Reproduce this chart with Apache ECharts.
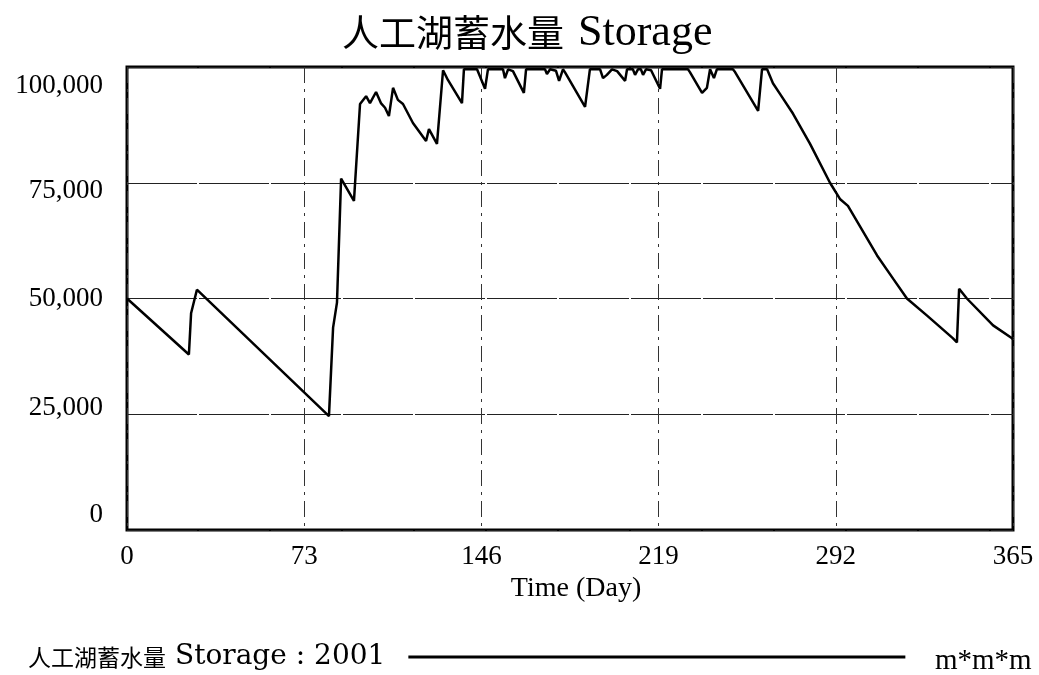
<!DOCTYPE html>
<html>
<head>
<meta charset="utf-8">
<title>人工湖蓄水量 Storage</title>
<script src="https://cdn.jsdelivr.net/npm/echarts@6/dist/echarts.min.js"></script>
<style>
  html, body { margin: 0; padding: 0; background: #fff; }
  #main { width: 1039px; height: 675px; }
</style>
</head>
<body>
<div id="main"></div>
<script>
  // time (day) of each break point of the curve
  var days = [0, 25.5, 26.4, 28.8, 83.2, 84.9, 86.5, 88.2, 93.5, 96.0, 98.5, 100.1, 102.6, 104.6, 106.3, 107.9,
    109.6, 111.6, 113.7, 117.8, 123.2, 124.4, 127.7, 130.2, 132.2, 138.0, 138.8, 144.2, 147.5, 148.7, 154.9,
    155.7, 157.0, 159.0, 163.5, 164.4, 172.2, 173.0, 174.3, 176.7, 178.0, 179.6, 180.4, 188.7, 190.7, 194.9,
    196.1, 197.7, 199.8, 201.9, 205.2, 206.0, 208.4, 209.3, 210.5, 211.7, 212.6, 213.8, 215.9, 219.6, 220.4,
    231.1, 231.9, 236.9, 238.9, 240.2, 241.0, 241.8, 243.0, 249.6, 250.5, 260.0, 261.6, 263.7, 266.1, 269.0,
    274.4, 281.4, 289.6, 293.7, 297.0, 309.0, 315.6, 321.3, 329.6, 340.3, 341.9, 342.8, 346.0, 356.8, 364.6, 365];
  // 人工湖蓄水量 Storage (m*m*m)
  var storage = [50000, 37900, 46800, 51900, 24600, 43700, 49100, 75900, 71100, 92000, 93700, 92200, 94600, 92200, 91200, 89400,
    95500, 92900, 92000, 87900, 84000, 86600, 83400, 99300, 97200, 92200, 99500, 99500, 95300, 99500, 99500,
    97600, 99500, 99100, 94400, 99500, 99500, 98500, 99500, 99200, 97000, 99500, 98900, 91400, 99500, 99500,
    97600, 98300, 99500, 99100, 97000, 99500, 99500, 98300, 99500, 99500, 98300, 99500, 99300, 95300, 99500,
    99500, 98900, 94400, 95500, 99500, 99500, 97600, 99500, 99500, 98900, 90500, 99500, 99500, 96500, 94200,
    89900, 83400, 75000, 71500, 70000, 59300, 54300, 50000, 46300, 41400, 40500, 52100, 50000, 44200, 41400, 41200];
  var xTicks = [0, 73, 146, 219, 292, 365];
  var yTicks = [0, 25000, 50000, 75000, 100000];
  var seriesName = '人工湖蓄水量 Storage : 2001';
  var unitText = 'm*m*m';

  var serif = '"Liberation Serif", "Times New Roman", serif';
  var wideSerif = '"DejaVu Serif", "Liberation Serif", serif';
  var cjk = '"Noto Sans CJK SC", "Noto Sans CJK TC", sans-serif';

  var lineData = days.map(function (d, i) {
    return [d, storage[i]];
  });

  function fmtThousands(v) {
    return String(v).replace(/\B(?=(\d{3})+(?!\d))/g, ',');
  }

  // vensim puts the y labels a bit off the grid lines
  var yLabelStyle = {};
  var yPad = {0: [0, 0, 30, 0], 25000: [0, 0, 12, 0], 50000: [0, 0, 0, 0], 75000: [16, 0, 0, 0], 100000: [38, 0, 0, 0]};
  yTicks.forEach(function (t) {
    yLabelStyle['y' + t] = {fontFamily: serif, fontSize: 27, color: '#000', padding: yPad[t]};
  });

  var myChart = echarts.init(document.getElementById('main'));
  var option = {
    backgroundColor: '#fff',
    animation: false,
    title: [{
      text: '{c|人工湖蓄水量}{l|Storage}',
      left: 337,
      top: 6,
      textStyle: {
        fontWeight: 'normal',
        rich: {
          c: {fontFamily: cjk, fontSize: 37, fontWeight: 'normal', color: '#000'},
          l: {fontFamily: serif, fontSize: 44, fontWeight: 'normal', color: '#000', padding: [0, 0, 0, 14]}
        }
      }
    }, {
      text: unitText,
      left: 930,
      top: 642,
      textStyle: {fontFamily: serif, fontSize: 29, fontWeight: 'normal', color: '#000'}
    }],
    legend: {
      left: 28,
      top: 643,
      padding: 0,
      align: 'right',
      icon: 'rect',
      itemWidth: 497,
      itemHeight: 3,
      data: [seriesName],
      formatter: function () {
        return '{c|人工湖蓄水量}{l|Storage : 2001}';
      },
      textStyle: {
        rich: {
          c: {fontFamily: cjk, fontSize: 23, color: '#000'},
          l: {fontFamily: wideSerif, fontSize: 28, color: '#000', padding: [0, 18, 0, 9]}
        }
      }
    },
    grid: {
      left: 127,
      right: 26,
      top: 67,
      bottom: 145,
      show: true,
      borderColor: '#000',
      borderWidth: 3
    },
    xAxis: {
      type: 'value',
      min: 0,
      max: 365,
      interval: 73,
      name: 'Time (Day)',
      nameLocation: 'middle',
      nameGap: 40,
      nameTextStyle: {fontFamily: serif, fontSize: 28, color: '#000', padding: [0, 0, 0, 12]},
      axisLine: {show: false},
      axisTick: {show: false},
      axisLabel: {fontFamily: serif, fontSize: 27, color: '#000', margin: 13},
      splitLine: {
        show: true,
        lineStyle: {color: '#333', width: 1, type: [16, 6, 3, 6]}
      }
    },
    yAxis: {
      type: 'value',
      min: 0,
      max: 100000,
      interval: 25000,
      axisLine: {show: false},
      axisTick: {show: false},
      axisLabel: {
        margin: 24,
        formatter: function (v) {
          return '{y' + v + '|' + fmtThousands(v) + '}';
        },
        rich: yLabelStyle
      },
      splitLine: {
        show: true,
        lineStyle: {color: '#222', width: 1, type: [70, 2]}
      }
    },
    series: [{
      name: seriesName,
      type: 'line',
      showSymbol: false,
      symbol: 'none',
      itemStyle: {color: '#000'},
      lineStyle: {color: '#000', width: 2.5},
      data: lineData
    }]
  };
  myChart.setOption(option);
</script>
</body>
</html>
